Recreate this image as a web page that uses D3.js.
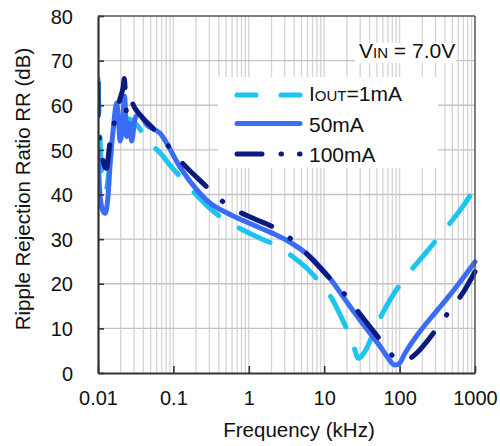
<!DOCTYPE html>
<html><head><meta charset="utf-8">
<script src="https://cdn.jsdelivr.net/npm/d3@7"></script>
<style>body{margin:0;background:#fff}svg{display:block;font-family:"Liberation Sans",Arial,sans-serif}</style>
</head><body><svg id="c" width="500" height="446"></svg>
<script>
// ---- data ----
const freq1mA = [0.01,0.0105,0.011,0.0115,0.012,0.013,0.0145,0.016,0.02,0.025,0.033,0.0465,0.066,0.09,0.135,0.2,0.305,0.48,0.8,1.41,2.46,4,6.2,9.27,12.3,17.1,22,25,28.3,32,36.5,44.8,60,82,112,240,362,736,1000];
const rr1mA   = [66,55,47,42,41,41.4,48,52,54,57,55.5,51.8,49.4,46.6,43.2,40,36.9,34.3,32.2,30.2,28.3,25.8,23.1,19.7,17,12.3,8.1,5.6,3.3,4,5.5,8.9,13.5,17.5,20.8,27.6,31.3,38,41.5];
const freq50mA = [0.01,0.0105,0.0115,0.0124,0.0135,0.0145,0.016,0.0177,0.0188,0.0196,0.021,0.0225,0.024,0.026,0.028,0.031,0.035,0.045,0.066,0.122,0.182,0.305,0.509,1.0,2.0,3.52,6.48,11.9,22,40.5,55,70,80,87,100,117,186,300,466,1000];
const rr50mA   = [50,41,36.5,35.8,39,47,55,60.5,56,52,55,62,53,56,52,57,58,55.5,53.8,46.2,42.1,38.1,35.9,33.6,31.4,29.3,26.1,21.2,14.9,8.9,6.0,3.4,2.1,1.8,2.2,4.3,9.3,13.6,17.5,24.9];
const freq100mA = [0.01,0.01005,0.0106,0.0115,0.0125,0.013,0.0137,0.0144,0.0168,0.0196,0.0215,0.0223,0.024,0.0266,0.031,0.04,0.054,0.0814,0.116,0.262,0.415,0.69,1.2,2.1,3.52,5.5,12.5,19.4,28.3,57.9,75,87,110,130,152,326,466,687,1000];
const rr100mA   = [65,56,51.8,48,46,45.9,48.5,51.8,56.7,61.5,64,66,58.2,61.2,59.3,57,54.8,51.3,48.1,42.1,38.9,36.4,34.5,32.7,30.2,27.2,20.8,17.3,13.7,7.0,4.5,3.3,2.8,3.0,3.8,10.4,14.1,17.9,22.7];
const xTicks = [0.01,0.1,1,10,100,1000];
const xTickLabels = ["0.01","0.1","1","10","100","1000"];
const yTicks = [0,10,20,30,40,50,60,70,80];
const seriesNames = ["=1mA","50mA","100mA"];

// ---- layout ----
const L=98,R=475,T=16,B=373;
const svg=d3.select("#c");
const x=d3.scaleLog().domain([0.01,1000]).range([L,R]);
const y=d3.scaleLinear().domain([0,80]).range([B,T]);
const txt="#111";

// vertical grid (minor log lines)
const vg=[];
for(let e=-2;e<3;e++){for(let m=1;m<=9;m++){const v=m*Math.pow(10,e);if(v>0.01&&v<1000)vg.push(v);}}
svg.append("g").selectAll("line").data(vg).join("line")
 .attr("x1",d=>x(d)).attr("x2",d=>x(d)).attr("y1",T).attr("y2",B)
 .attr("stroke","#d4d4d4").attr("stroke-width",1.3);
// horizontal grid
svg.append("g").selectAll("line").data(yTicks.filter(d=>d>0&&d<80)).join("line")
 .attr("x1",L).attr("x2",R).attr("y1",d=>y(d)).attr("y2",d=>y(d))
 .attr("stroke","#c4c4c4").attr("stroke-width",1.3);

// white boxes
svg.append("rect").attr("x",218).attr("y",77).attr("width",220).attr("height",91).attr("fill","#fff");
svg.append("rect").attr("x",355).attr("y",43).attr("width",101).attr("height",20).attr("fill","#fff");

// clip
svg.append("clipPath").attr("id","pc").append("rect").attr("x",L).attr("y",T-4).attr("width",R-L+4).attr("height",B-T+4);

const line=d3.line().x(d=>x(d[0])).y(d=>y(d[1])).curve(d3.curveMonotoneX);
const series=[
 {f:freq1mA,v:rr1mA,c:"#1cc4ef",dash:"34,24",ldash:"19,25"},
 {f:freq50mA,v:rr50mA,c:"#3b6cf5",dash:null,ldash:null},
 {f:freq100mA,v:rr100mA,c:"#0b1a7e",dash:"33,22,0.5,22",ldash:"25,19,0.5,18"}
];
const g=svg.append("g").attr("clip-path","url(#pc)");
series.forEach(s=>{
 g.append("path").datum(s.f.map((f,i)=>[f,s.v[i]])).attr("d",line)
  .attr("fill","none").attr("stroke",s.c).attr("stroke-width",5)
  .attr("stroke-linecap","round").attr("stroke-linejoin","round")
  .attr("stroke-dasharray",s.dash);
});

// frame
svg.append("line").attr("x1",L).attr("x2",R).attr("y1",T).attr("y2",T).attr("stroke","#555").attr("stroke-width",1.5);
svg.append("line").attr("x1",R).attr("x2",R).attr("y1",T).attr("y2",B).attr("stroke","#555").attr("stroke-width",1.5);
// axes with inward ticks
const ya=svg.append("g").attr("transform",`translate(${L},0)`)
 .call(d3.axisLeft(y).tickValues(yTicks).tickSize(-6).tickPadding(25).tickSizeOuter(0));
const xa=svg.append("g").attr("transform",`translate(0,${B})`)
 .call(d3.axisBottom(x).tickValues(xTicks).tickFormat((d,i)=>xTickLabels[i]).tickSize(-7).tickPadding(18).tickSizeOuter(0));
[ya,xa].forEach(a=>{
 a.select(".domain").attr("stroke","#333").attr("stroke-width",2.2);
 a.selectAll(".tick line").attr("stroke","#333").attr("stroke-width",1.6);
 a.selectAll(".tick text").attr("fill",txt).style("font-size","20px").style("font-family","Liberation Sans, Arial, sans-serif");
});
ya.selectAll(".tick text").attr("dy","0.36em");
xa.selectAll(".tick text").attr("dy","0.72em");

// titles
svg.append("text").attr("transform","translate(30,189) rotate(-90)").attr("text-anchor","middle")
 .attr("fill",txt).style("font-size","20.5px").text("Ripple Rejection Ratio RR (dB)");
svg.append("text").attr("x",299).attr("y",437).attr("text-anchor","middle")
 .attr("fill",txt).style("font-size","20.5px").text("Frequency (kHz)");

// VIN
const vt=svg.append("text").attr("x",359).attr("y",58).attr("fill",txt).style("font-size","21px");
vt.append("tspan").text("V");
vt.append("tspan").style("font-size","15px").text("IN");
vt.append("tspan").text(" = 7.0V");

// legend
const ly=[95,123.5,154], lty=[101,131.5,162];
series.forEach((s,i)=>{
 svg.append("line").attr("x1",237).attr("x2",300).attr("y1",ly[i]).attr("y2",ly[i])
  .attr("stroke",s.c).attr("stroke-width",5).attr("stroke-linecap","round").attr("stroke-dasharray",s.ldash);
 const t=svg.append("text").attr("x",309).attr("y",lty[i]).attr("fill",txt).style("font-size","21px");
 if(i===0){t.append("tspan").text("I");t.append("tspan").style("font-size","15px").text("OUT");t.append("tspan").text(seriesNames[0]);}
 else t.text(seriesNames[i]);
});
</script></body></html>
